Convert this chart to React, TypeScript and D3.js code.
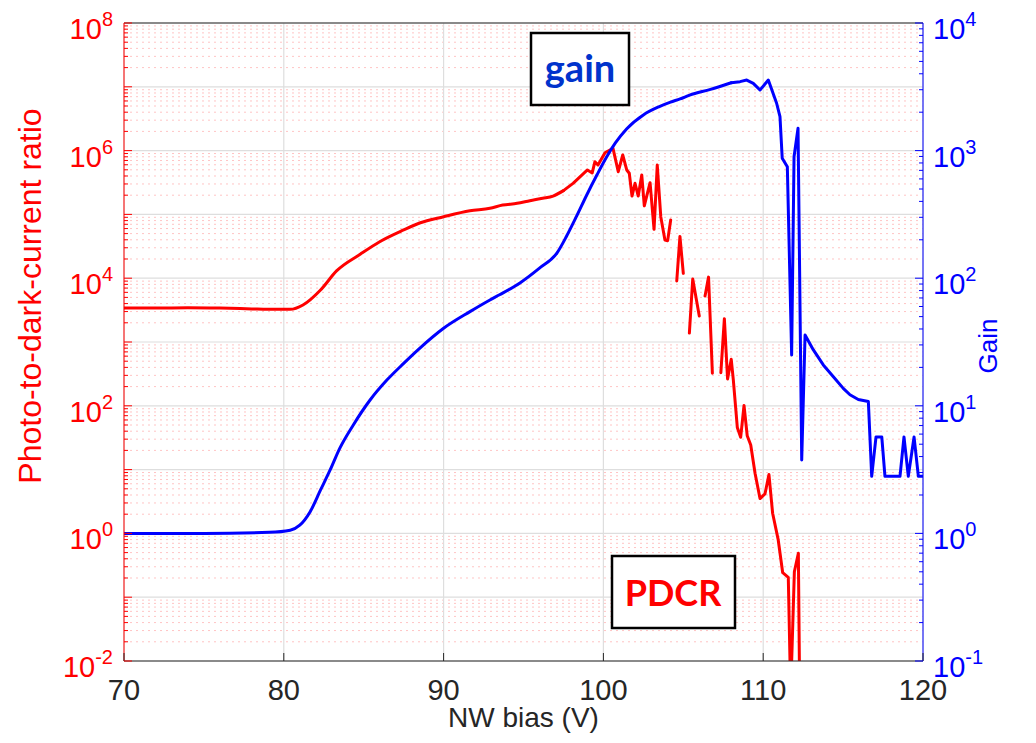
import React from "react";
import * as d3 from "d3";

// ---------- data ----------
const xTicks = [70, 80, 90, 100, 110, 120];
const leftExps = [-2, 0, 2, 4, 6, 8];
const rightExps = [-1, 0, 1, 2, 3, 4];

// PDCR (red), NaN = gap
const pdcrV = [70, 72, 74, 76, 78, 79, 80.4, 81.2, 82.3, 83.3, 84.8, 86.0, 87.5, 88.5, 90.0, 91.65, 92.9, 93.7, 94.6, 95.4, 96.2, 96.85, 97.5, 98.1, 98.5, 99.0, 99.3, 99.47, 99.66, 100.1, 100.6, 100.93, 101.21, 101.46, 101.62, 101.79, 101.98, 102.18, 102.4, 102.56, 102.92, 103.17, 103.37, 103.59, 103.85, 104.02, 104.21, 104.4, 104.59, 104.79, 105.0, 105.2, 105.38, 105.59, 106.0, 106.2, 106.36, 106.58, 106.82, 107.1, 107.35, 107.57, 107.77, 108.0, 108.13, 108.38, 108.59, 108.8, 109.0, 109.22, 109.49, 109.8, 110.11, 110.36, 110.59, 110.94, 111.22, 111.57, 111.72, 111.95, 112.2, 112.3];
const pdcrVal = [3400, 3400, 3450, 3400, 3300, 3250, 3250, 3800, 6530, 13000, 23900, 37300, 57000, 73300, 92000, 114000, 125000, 140000, 149000, 164000, 179000, 194000, 236000, 307000, 380000, 497000, 446000, 670000, 594000, 927000, 1086000, 467000, 853000, 497000, 441000, 194000, 307000, 194000, 415000, 136000, 314000, 58300, 594000, 92000, 39700, 38700, 81700, NaN, 9040, 45100, 11900, NaN, 1380, 9700, 2560, NaN, 5260, 10400, 323, NaN, 330, 2320, 263, 536, 254, 45.7, 32.1, 101, 33.9, 24.3, 8.75, 3.52, 4.15, 8.37, 2.07, 0.79, 0.242, 0.205, 0.003, 0.251, 0.488, 0.001];

// Gain (blue)
const gainV = [70, 75, 79.1, 80.4, 81.0, 81.65, 82.3, 82.9, 83.5, 84.35, 85.4, 86.45, 87.5, 88.5, 90.0, 91.65, 92.9, 93.5, 94.8, 96.0, 97.1, 97.7, 98.3, 98.95, 99.6, 100.2, 100.75, 101.45, 102.5, 103.5, 104.2, 104.8, 105.4, 106.7, 108.0, 108.55, 108.97, 109.38, 109.8, 110.32, 110.84, 111.05, 111.19, 111.51, 111.78, 111.93, 112.18, 112.41, 112.62, 113.14, 113.76, 114.39, 115.01, 115.43, 115.95, 116.58, 116.79, 117.06, 117.42, 117.62, 118.56, 118.81, 119.08, 119.44, 119.71, 120];
const gainVal = [1.0, 1.0, 1.02, 1.06, 1.16, 1.48, 2.19, 3.14, 4.64, 7.08, 11.1, 15.9, 21.5, 28.2, 40.5, 54.7, 67.5, 74.1, 92.3, 120, 158, 214, 302, 447, 646, 891, 1148, 1479, 1905, 2213, 2399, 2541, 2723, 3020, 3404, 3470, 3570, 3365, 2985, 3570, 2350, 1845, 871, 748, 25, 895, 1496, 3.76, 35.9, 27.4, 20.9, 16.9, 13.7, 12.2, 11.2, 10.8, 2.8, 5.7, 5.7, 2.8, 2.8, 5.7, 2.8, 5.7, 2.8, 2.8];

// bias at which the traces turn from smooth to noisy
const redSmoothUntil = 97.5;
const blueSmoothUntil = 108.0;

// ---------- layout ----------
const W = 1036, H = 743;
const L = 124, R = 923, T = 23, B = 661;
const FONT = "'Liberation Sans', Arial, Helvetica, sans-serif";
const DARK = "#262626";

type P = [number, number];

export default function App() {
  const x = d3.scaleLinear().domain([70, 120]).range([L, R]);
  const yL = d3.scaleLog().domain([1e-2, 1e8]).range([B, T]);
  const yR = d3.scaleLog().domain([1e-1, 1e4]).range([B, T]);

  const redPts: P[] = pdcrV.map((v, i) => [v, pdcrVal[i]] as P);
  const bluePts: P[] = gainV.map((v, i) => [v, gainVal[i]] as P);

  const redSmooth = d3.line<P>().curve(d3.curveMonotoneX)
    .x(d => x(d[0])).y(d => yL(d[1]));
  const redRough = d3.line<P>().defined(d => !isNaN(d[1]))
    .x(d => x(d[0])).y(d => yL(d[1]));
  const blueSmooth = d3.line<P>().curve(d3.curveMonotoneX)
    .x(d => x(d[0])).y(d => yR(d[1]));
  const blueRough = d3.line<P>()
    .x(d => x(d[0])).y(d => yR(d[1]));

  const redA = redPts.filter(d => d[0] <= redSmoothUntil);
  const redB = redPts.filter(d => d[0] >= redSmoothUntil);
  const blueA = bluePts.filter(d => d[0] <= blueSmoothUntil);
  const blueB = bluePts.filter(d => d[0] >= blueSmoothUntil);

  const leftMinor: number[] = [];
  for (let e = -2; e < 8; e++) for (let m = 2; m <= 9; m++) leftMinor.push(m * Math.pow(10, e));
  const leftMajor = d3.range(-2, 9).map(e => Math.pow(10, e));
  const rightMinor: number[] = [];
  for (let e = -1; e < 4; e++) for (let m = 2; m <= 9; m++) rightMinor.push(m * Math.pow(10, e));
  const rightMajor = d3.range(-1, 5).map(e => Math.pow(10, e));

  return (
    <svg width={W} height={H} style={{ position: "absolute", left: 0, top: 0, background: "#fff" }} fontFamily={FONT}>
      <defs>
        <clipPath id="plotClip">
          <rect x={L} y={T} width={R - L} height={B - T} />
        </clipPath>
      </defs>
      <rect x={0} y={0} width={W} height={H} fill="#fff" />
      {/* minor grid */}
      {leftMinor.map((v, i) => (
        <line key={"mg" + i} x1={L} x2={R} y1={yL(v)} y2={yL(v)} stroke="#ffc4c4" strokeWidth={1} strokeDasharray="2,4" />
      ))}
      {/* major grid */}
      {leftMajor.map((v, i) => (
        <line key={"Mg" + i} x1={L} x2={R} y1={yL(v)} y2={yL(v)} stroke="#dedede" strokeWidth={1.2} />
      ))}
      {xTicks.map((t, i) => (
        <line key={"xg" + i} x1={x(t)} x2={x(t)} y1={T} y2={B} stroke="#dedede" strokeWidth={1.2} />
      ))}

      {/* curves */}
      <g clipPath="url(#plotClip)" fill="none" strokeWidth={3} strokeLinejoin="round" strokeLinecap="round">
        <path d={redSmooth(redA) || ""} stroke="#ff0000" />
        <path d={redRough(redB) || ""} stroke="#ff0000" />
        <path d={blueSmooth(blueA) || ""} stroke="#0000ff" />
        <path d={blueRough(blueB) || ""} stroke="#0000ff" />
      </g>

      {/* axes lines */}
      <line x1={L} x2={R} y1={B} y2={B} stroke={DARK} strokeWidth={1} />
      <line x1={L} x2={R} y1={T} y2={T} stroke={DARK} strokeWidth={1} />
      <line x1={L} x2={L} y1={T} y2={B} stroke="#ff0000" strokeWidth={1} />
      <line x1={R} x2={R} y1={T} y2={B} stroke="#0000ff" strokeWidth={1} />

      {/* x ticks */}
      {xTicks.map((t, i) => (
        <g key={"xt" + i}>
          <line x1={x(t)} x2={x(t)} y1={B} y2={B - 8} stroke={DARK} strokeWidth={1} />
          <text x={x(t)} y={700} textAnchor="middle" fontSize={29} fill={DARK}>{t}</text>
        </g>
      ))}

      {/* left ticks */}
      {leftMinor.map((v, i) => (
        <line key={"lm" + i} x1={L} x2={L + 4} y1={yL(v)} y2={yL(v)} stroke="#ff0000" strokeWidth={1} />
      ))}
      {leftMajor.map((v, i) => (
        <line key={"lM" + i} x1={L} x2={L + 8} y1={yL(v)} y2={yL(v)} stroke="#ff0000" strokeWidth={1} />
      ))}
      {leftExps.map((e, i) => (
        <text key={"ll" + i} x={113} y={yL(Math.pow(10, e)) + 16} textAnchor="end" fontSize={29} fill="#ff0000">
          10<tspan fontSize={20} dy={-13}>{e}</tspan>
        </text>
      ))}

      {/* right ticks */}
      {rightMinor.map((v, i) => (
        <line key={"rm" + i} x1={R} x2={R - 4} y1={yR(v)} y2={yR(v)} stroke="#0000ff" strokeWidth={1} />
      ))}
      {rightMajor.map((v, i) => (
        <line key={"rM" + i} x1={R} x2={R - 8} y1={yR(v)} y2={yR(v)} stroke="#0000ff" strokeWidth={1} />
      ))}
      {rightExps.map((e, i) => (
        <text key={"rl" + i} x={933} y={yR(Math.pow(10, e)) + 16} textAnchor="start" fontSize={29} fill="#0000ff">
          10<tspan fontSize={20} dy={-13}>{e}</tspan>
        </text>
      ))}

      {/* axis labels */}
      <text x={(L + R) / 2} y={727} textAnchor="middle" fontSize={28} fill={DARK}>NW bias (V)</text>
      <text transform={`translate(41, 296) rotate(-90)`} textAnchor="middle" fontSize={32} fill="#ff0000">Photo-to-dark-current ratio</text>
      <text transform={`translate(997, 346) rotate(-90)`} textAnchor="middle" fontSize={26} fill="#0000ff">Gain</text>

      {/* annotation boxes */}
      <rect x={531} y={33} width={98} height={72} fill="#fff" stroke="#000" strokeWidth={2.5} />
      <text x={580} y={82} textAnchor="middle" fontSize={38} fontWeight="bold" fill="#0033cc" fontFamily="Lato, 'Open Sans', sans-serif">gain</text>
      <rect x={612} y={556} width={123} height={72} fill="#fff" stroke="#000" strokeWidth={2.5} />
      <text x={673} y={606} textAnchor="middle" fontSize={36} fontWeight="bold" fill="#ff0000" fontFamily="Lato, 'Open Sans', sans-serif">PDCR</text>
    </svg>
  );
}
